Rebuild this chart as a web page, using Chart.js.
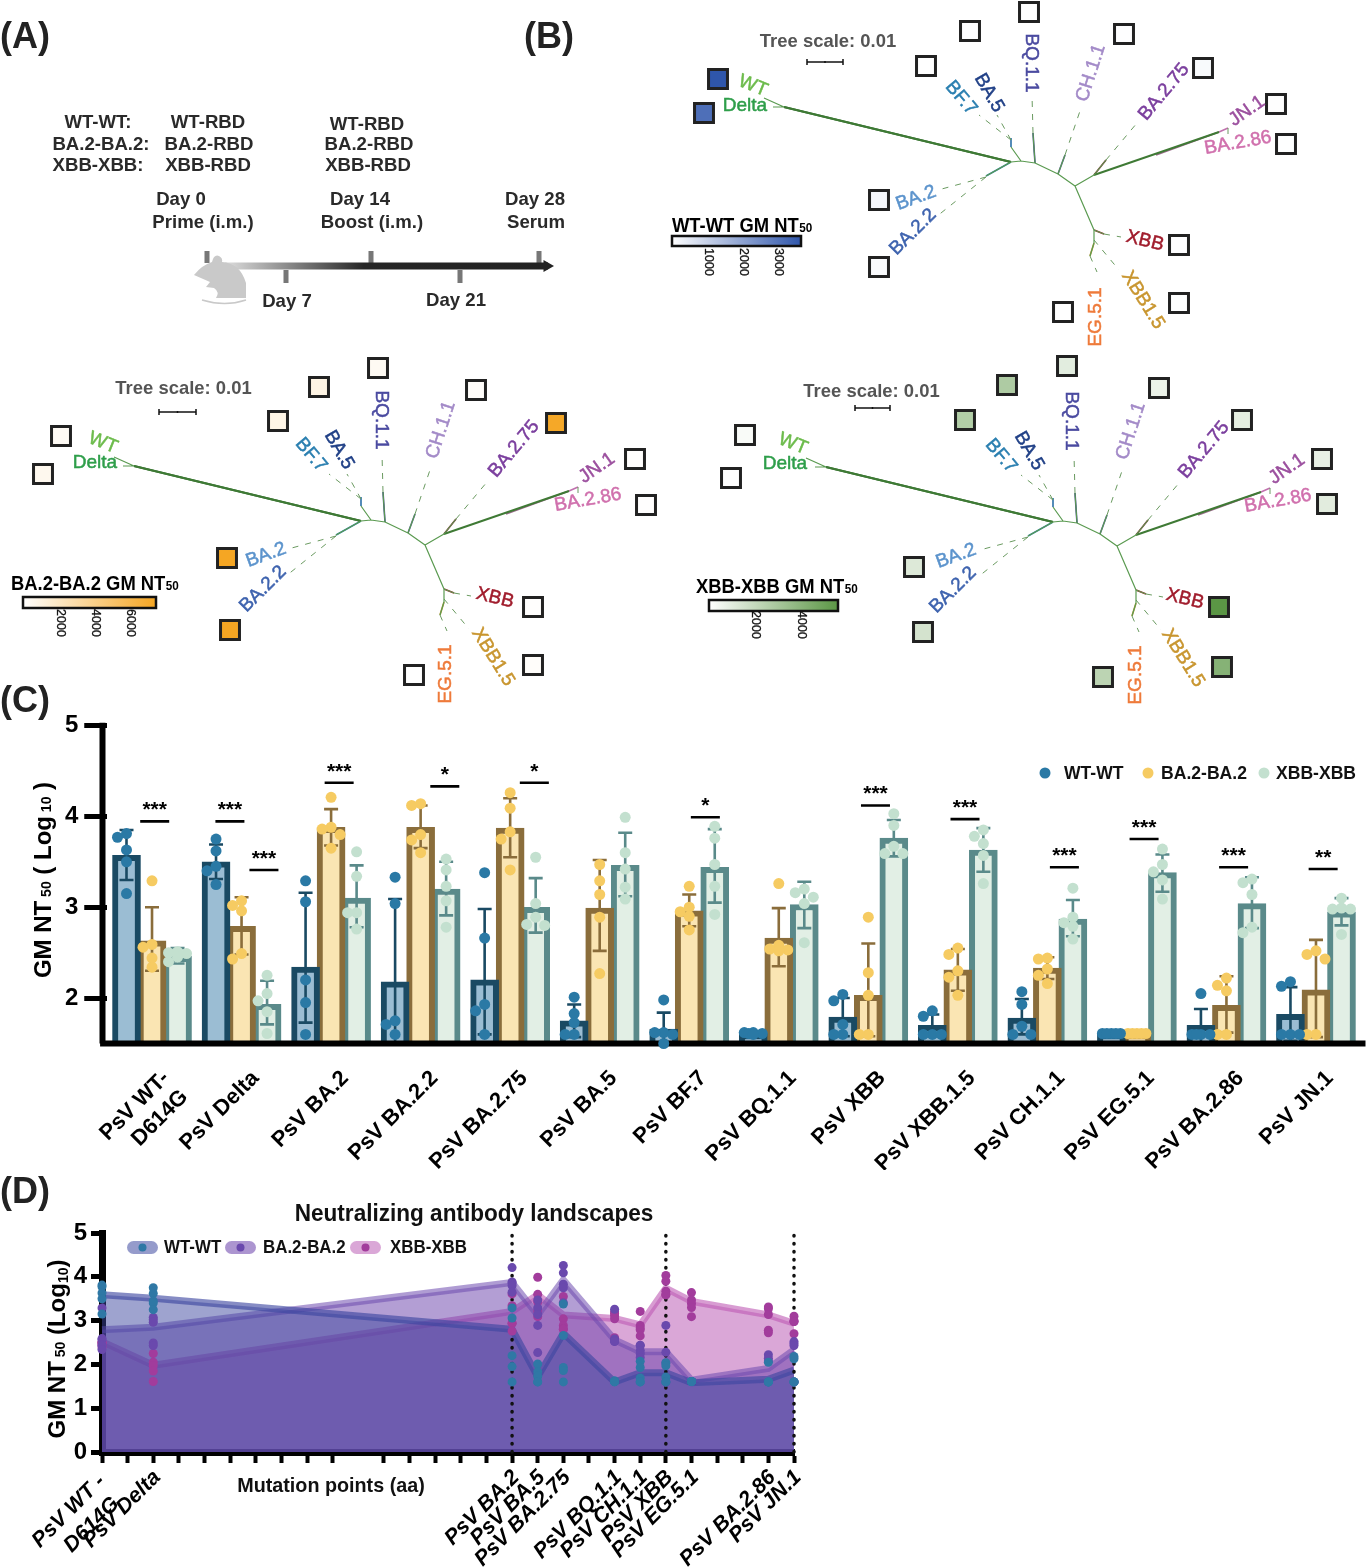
<!DOCTYPE html>
<html><head><meta charset="utf-8">
<script src="https://cdn.jsdelivr.net/npm/chart.js@4"></script>
<style>html,body{margin:0;padding:0;background:#fff}canvas{position:absolute;display:block}</style>
</head><body>
<canvas id="schema" style="left:0;top:0"></canvas>
<canvas id="barsC" style="left:0;top:690px"></canvas>
<canvas id="landD" style="left:0;top:1170px"></canvas>
<script>
/* ---------- panel C data ---------- */
const groups=[['PsV WT-','D614G'],'PsV Delta','PsV BA.2','PsV BA.2.2','PsV BA.2.75','PsV BA.5','PsV BF.7','PsV BQ.1.1','PsV XBB','PsV XBB.1.5','PsV CH.1.1','PsV EG.5.1','PsV BA.2.86','PsV JN.1'];
const wtMean=[3.57,3.5,2.34,2.18,2.2,1.75,1.66,1.61,1.79,1.7,1.78,1.61,1.7,1.82];
const ba2Mean=[2.63,2.79,3.88,3.88,3.87,2.99,2.96,2.66,2.03,2.31,2.33,1.61,1.92,2.09];
const xbbMean=[2.46,1.93,3.1,3.2,3.0,3.46,3.44,3.03,3.76,3.63,2.87,3.38,3.04,2.95];
const wtHi=[3.85,3.69,3.16,3.09,2.98,1.93,1.84,1.62,2.0,1.82,1.99,1.62,1.88,2.12];
const wtLo=[3.3,3.31,1.73,1.5,1.6,1.57,1.5,1.6,1.58,1.58,1.6,1.6,1.5,1.53];
const ba2Hi=[3.0,3.11,4.08,4.12,4.2,3.52,3.14,2.99,2.6,2.54,2.45,1.62,2.24,2.64];
const ba2Lo=[2.3,2.48,3.68,3.65,3.55,2.52,2.79,2.35,1.58,2.08,2.21,1.6,1.62,1.57];
const xbbHi=[2.55,2.19,3.46,3.5,3.32,3.82,3.86,3.28,3.96,3.87,3.08,3.58,3.33,3.1];
const xbbLo=[2.38,1.71,2.78,2.91,2.72,3.12,3.05,2.77,3.56,3.39,2.68,3.17,2.77,2.8];
const wtPts=[[3.81,3.77,3.63,3.5,3.15],[3.75,3.62,3.45,3.4,3.25],[3.29,3.06,2.2,1.95,1.6],[3.33,3.04,1.75,1.71,1.6],[3.38,2.66,1.93,1.86,1.6],[2.01,1.83,1.73,1.6,1.6],[1.98,1.62,1.62,1.6,1.5],[1.62,1.62,1.61,1.61,1.6],[2.04,1.97,1.71,1.6,1.6],[1.86,1.8,1.6,1.6,1.6],[2.07,1.93,1.69,1.6,1.6],[1.61,1.61,1.61,1.61,1.61],[2.05,1.6,1.6,1.6,1.6],[2.18,2.13,1.6,1.6,1.6]];
const ba2Pts=[[3.29,2.59,2.56,2.44,2.34],[3.07,3.02,2.96,2.49,2.43],[4.21,3.88,3.86,3.8,3.65],[4.14,4.12,3.8,3.74,3.6],[4.26,4.09,3.83,3.75,3.41],[3.47,3.29,3.14,2.89,2.27],[3.23,3.0,2.95,2.9,2.75],[3.26,2.58,2.54,2.53,2.52],[2.89,2.28,2.03,1.6,1.6],[2.55,2.48,2.3,2.23,2.03],[2.44,2.43,2.32,2.25,2.16],[1.61,1.61,1.61,1.61,1.61],[2.22,2.14,2.08,1.6,1.6],[2.52,2.48,2.43,1.6,1.6]];
const xbbPts=[[2.51,2.5,2.49,2.45,2.4],[2.25,2.05,1.97,1.85,1.61],[3.61,3.34,2.94,2.94,2.76],[3.53,3.41,3.23,3.07,2.78],[3.55,3.04,2.89,2.81,2.8],[3.99,3.6,3.42,3.22,3.09],[3.89,3.76,3.47,3.23,2.92],[3.2,3.16,3.11,3.04,2.61],[4.03,3.9,3.67,3.59,3.59],[3.85,3.78,3.7,3.57,3.26],[3.21,2.89,2.83,2.79,2.65],[3.64,3.47,3.39,3.3,3.09],[3.31,3.27,3.14,2.78,2.72],[3.1,2.99,2.98,2.98,2.7]];
const sigX=[0.03,0.87,1.25,2.09,3.27,4.27,6.18,8.08,9.08,10.19,11.08,12.08,13.08];
const sigY=[3.945,3.945,3.41,4.37,4.33,4.37,3.99,4.12,3.97,3.44,3.75,3.44,3.42];
const sigStars=['***','***','***','***','*','*','*','***','***','***','***','***','**'];
const seriesNames=['WT-WT','BA.2-BA.2','XBB-XBB'];

/* ---------- panel D data ---------- */
const mutationPoints=[0,2,16,17,18,20,21,22,23,26,27];
const mutationLabels=[['PsV WT - ','D614G  '],'PsV Delta','PsV BA.2','PsV BA.5','PsV BA.2.75','PsV BQ.1.1','PsV CH.1.1','PsV XBB','PsV EG.5.1','PsV BA.2.86','PsV JN.1'];
const mutationGroupIndex=[0,1,2,5,4,7,10,8,11,12,13];
const landWT=[3.59,3.51,2.8,1.72,2.71,1.6,1.81,1.81,1.58,1.66,1.87];
const landBA2=[2.79,2.85,3.87,3.13,3.93,2.56,2.29,2.29,1.64,1.91,2.33];
const landXBB=[2.52,1.98,3.21,3.59,3.13,3.05,2.9,3.74,3.44,3.13,2.94];
const dottedAt=[16,22,27];
const axisTicksD=[0,1,2,3,4,5,6,7,8,9,11,12,13,14,15,16,17,18,19,20,21,22,23,24,25,26,27];

/* ---------- panel B tree data (node positions of the unrooted tree) ---------- */
const tipNames=['WT','Delta','BA.2','BA.2.2','BA.2.75','BA.5','BF.7','BQ.1.1','XBB','XBB1.5','CH.1.1','EG.5.1','BA.2.86','JN.1'];
const tipIndexInBars=[0,1,2,3,4,5,6,7,8,9,10,11,12,13];
const nodes={root:[1075,186],a:[1058,174],b:[1035,163],c:[1021,161],d:[1011,162],e:[784,107],wt:[764,98],delta:[773,107],f:[986,176],g:[1011,147],g2:[1011,138],h:[1033,133],i:[1065,155],j:[1094,175],k:[1219,132],k2:[1228,128],l:[1106,160],m:[1094,230],n:[1104,234],o:[1094,243],p:[1090,256]};
const thinBranches=[['root','a'],['a','b'],['b','c'],['c','d'],['root','j'],['root','m'],['m','n'],['m','o'],['o','p'],['c','g'],['e','wt'],['e','delta'],['d','f'],['a','i'],['b','h'],['j','l']];
const thickBranches=[['d','e'],['j','k']];
const dashedTips=[[[986,177],[938,190]],[[986,177],[936,217]],[[1011,140],[979,115]],[[1011,140],[997,115]],[[1033,133],[1032,95]],[[1065,155],[1081,108]],[[1106,160],[1137,123]],[[1228,128],[1228,138]],[[1104,234],[1121,237]],[[1094,240],[1119,270]],[[1090,256],[1097,272]]];
const tipColourBranches=[[['f','d'],'#2a7fb0'],[['g','g2'],'#2a6fa8'],[['h','b'],'#4a4aa0'],[['i','a'],'#5a5aa8'],[['l','j'],'#8a2a3a'],[['k','k2'],'#c070ad'],[['m','n'],'#a01c2c'],[['o','p'],'#c8952e']];
const treeLabels=[['WT',753,86,22],['Delta',745,106,0],['BA.2',916,198,-20],['BA.2.2',913,232,-45],['BA.2.75',1164,92,-50],['BA.5',989,93,60],['BF.7',961,98,50],['BQ.1.1',1031,63,90],['XBB',1145,241,14],['XBB1.5',1143,300,58],['CH.1.1',1091,73,-72],['EG.5.1',1096,317,-90],['BA.2.86',1238,143,-10],['JN.1',1247,111,-35]];
const treeLabelColours=['#6cbb4b','#2e9e4a','#5b93cc','#3d62ae','#7b3f9e','#1f3f86','#2a7fb0','#4a4aa0','#a01c2c','#c8952e','#a38ac8','#ee7a3a','#d070ad','#9b4f9e'];
/* square positions per panel, same order as tipNames */
const squaresB=[[718,79],[704,113],[879,200],[879,267],[1203,68],[970,31],[926,66],[1029,12],[1179,245],[1179,303],[1124,34],[1063,312],[1286,144],[1276,104]];
const squaresC=[[61,436],[43,474],[227,558],[230,630],[556,423],[319,387],[278,421],[378,368],[533,607],[533,665],[476,390],[414,675],[646,505],[635,459]];
const squaresD=[[745,435],[731,478],[914,567],[923,632],[1242,420],[1007,385],[965,420],[1067,366],[1219,607],[1222,667],[1159,388],[1103,677],[1327,504],[1322,459]];
const panelOffsets=[[0,0],[-650,359],[42,360]];
const scaleBars=[[807,843,62],[159,196,412],[855,890,408]];
const panelColours=['#2f56ab','#f5a623','#5b9645'];

/* ---------- panel A data ---------- */
const dayTicksUp=[207,371,539];
const dayTicksDown=[286,460];
const schemeText=[['WT-WT:',98,123],['BA.2-BA.2:',101,145],['XBB-XBB:',98,166],['WT-RBD',208,123],['BA.2-RBD',209,145],['XBB-RBD',208,166],['WT-RBD',367,125],['BA.2-RBD',369,145],['XBB-RBD',368,166],['Day 0',181,200],['Prime (i.m.)',203,223],['Day 14',360,200],['Boost (i.m.)',372,223],['Day 28',535,200],['Serum',536,223],['Day 7',287,302],['Day 21',456,301]];

const FONT='"Liberation Sans", Arial, sans-serif';
Chart.defaults.font.family=FONT;
Chart.defaults.animation=false;
Chart.defaults.responsive=false;
Chart.defaults.plugins.legend.display=false;
Chart.defaults.plugins.tooltip.enabled=false;
Chart.defaults.layout.autoPadding=false;

function size(id,w,h){const c=document.getElementById(id);c.width=w;c.height=h;c.style.width=w+'px';c.style.height=h+'px';return c;}
function txt(ctx,t,x,y,o={}){
  ctx.save();ctx.translate(x,y);
  if(o.rot)ctx.rotate(o.rot*Math.PI/180);
  if(o.sx)ctx.scale(o.sx,1);
  ctx.font=`${o.italic?'italic ':''}${o.bold===false?'':'bold '}${o.size||18}px ${FONT}`;
  ctx.fillStyle=o.color||'#000';ctx.textAlign=o.align||'center';ctx.textBaseline='middle';
  if(o.stroke){ctx.strokeStyle=ctx.fillStyle;ctx.lineWidth=o.stroke;ctx.strokeText(t,0,0);}
  ctx.fillText(t,0,0);ctx.restore();
}
function rich(ctx,parts,x,yc,sx){ /* vertical text running upward, centred on yc */
  ctx.save();ctx.translate(x,yc);ctx.rotate(-Math.PI/2);ctx.scale(sx||1,1);
  let w=0;parts.forEach(p=>{ctx.font=`bold ${p[1]}px ${FONT}`;w+=ctx.measureText(p[0]).width;});
  let c=-w/2;ctx.textBaseline='alphabetic';ctx.fillStyle='#000';ctx.textAlign='left';
  parts.forEach(p=>{ctx.font=`bold ${p[1]}px ${FONT}`;ctx.fillText(p[0],c,8+(p[2]||0));c+=ctx.measureText(p[0]).width;});
  ctx.restore();
}
function mix(hex,t){const n=parseInt(hex.slice(1),16),r=n>>16,g=(n>>8)&255,b=n&255;
  return `rgb(${Math.round(255+(r-255)*t)},${Math.round(255+(g-255)*t)},${Math.round(255+(b-255)*t)})`;}

/* ================= schematic: panels A and B ================= */
(function(){
const H=740;size('schema',1367,H);
const datasets=[];
function seg(pairs,o,off){const d=[];pairs.forEach(p=>{d.push({x:p[0][0]+off[0],y:p[0][1]+off[1]},{x:p[1][0]+off[0],y:p[1][1]+off[1]},{x:null,y:null});});
  datasets.push(Object.assign({showLine:true,data:d,pointRadius:0,borderColor:'#4f8a45',borderWidth:1,clip:false},o));}
const N=k=>nodes[k];
panelOffsets.forEach((off,pi)=>{
  seg(thinBranches.map(b=>[N(b[0]),N(b[1])]),{borderColor:'#5a9a50',borderWidth:1.2},off);
  seg(thickBranches.map(b=>[N(b[0]),N(b[1])]),{borderWidth:2,borderColor:'#3f7a35'},off);
  seg([[N('d'),N('e')]],{borderColor:'#2f6f2f',borderWidth:2.2},off);
  seg([[[nodes.j[0]+62,nodes.j[1]-20],N('k')]],{borderColor:'#9a6a8a',borderWidth:1.8},off);
  seg(dashedTips,{borderColor:'#6a9a60',borderWidth:1,borderDash:[6,7]},off);
  tipColourBranches.forEach(t=>seg([[N(t[0][0]),N(t[0][1])]],{borderColor:t[1],borderWidth:1.6},off));
  seg([scaleBars[pi].slice(0,2).map(x=>[x,scaleBars[pi][2]])],{borderColor:'#111',borderWidth:1.6},[0,0]);
  const sq=[squaresB,squaresC,squaresD][pi];
  const means=[wtMean,ba2Mean,xbbMean][pi];
  const tv=tipIndexInBars.map(i=>Math.pow(10,means[i]));
  const mx=Math.max(...tv),mn=Math.min(...tv);
  datasets.push({label:'heat '+seriesNames[pi],data:sq.map(s=>({x:s[0],y:s[1]})),pointStyle:'rect',pointRadius:13.4,borderWidth:3,pointBorderColor:'#222',
     pointBackgroundColor:tv.map(v=>mix(panelColours[pi],(v-mn)/(mx-mn))),clip:false});
});
/* timeline */
datasets.push({showLine:true,data:[{x:225,y:266},{x:548,y:266}],pointRadius:0,borderWidth:7,clip:false,
  borderColor:c=>{const g=c.chart.ctx.createLinearGradient(225,0,548,0);g.addColorStop(0,'#dddddd');g.addColorStop(0.43,'#262626');g.addColorStop(1,'#222');return g;}});
datasets.push({data:[{x:547,y:266}],pointStyle:'triangle',pointRadius:7,rotation:90,pointBackgroundColor:'#222',pointBorderColor:'#222',borderWidth:0});
dayTicksUp.forEach(x=>datasets.push({showLine:true,data:[{x,y:251},{x,y:263}],pointRadius:0,borderWidth:5,borderColor:'#777'}));
dayTicksDown.forEach(x=>datasets.push({showLine:true,data:[{x,y:270},{x,y:283}],pointRadius:0,borderWidth:5,borderColor:'#777'}));

const deco={id:'deco',afterDatasetsDraw(ch){const ctx=ch.ctx;
  /* mouse silhouette */
  ctx.save();ctx.fillStyle='#c9c9c9';ctx.strokeStyle='#c9c9c9';ctx.beginPath();
  ctx.moveTo(194,275);ctx.quadraticCurveTo(202,265,212,262);ctx.quadraticCurveTo(214,254,219,256);ctx.quadraticCurveTo(223,258,222,262);
  ctx.quadraticCurveTo(240,263,246,283);ctx.lineTo(246,298);ctx.lineTo(216,298);ctx.quadraticCurveTo(220,292,214,288);ctx.lineTo(206,287);ctx.lineTo(210,282);ctx.closePath();ctx.fill();
  ctx.lineWidth=1.5;ctx.beginPath();ctx.moveTo(246,300);ctx.quadraticCurveTo(225,307,202,300);ctx.stroke();ctx.restore();
  /* panel letters */
  txt(ctx,'(A)',0,38,{size:36,align:'left',color:'#222'});
  txt(ctx,'(B)',524,38,{size:36,align:'left',color:'#222'});
  txt(ctx,'(C)',0,702,{size:36,align:'left',color:'#222'});
  schemeText.forEach(t=>txt(ctx,t[0],t[1],t[2],{size:18.6,color:'#2a2a2a'}));
  /* tree labels */
  panelOffsets.forEach((off,pi)=>{
    const lo=[0,0,-2][pi];
    treeLabels.forEach((l,i)=>txt(ctx,l[0],l[1]+off[0]+lo,l[2]+off[1]+(pi?-2:0),{size:19,bold:false,rot:l[3],color:treeLabelColours[i],stroke:.5}));
    const b=scaleBars[pi];
    txt(ctx,'Tree scale: 0.01',(b[0]+b[1])/2+[3,6,-1][pi],b[2]+[-21,-24,-17][pi]+1,{size:19,color:'#555',sx:.97});
    [b[0],b[1],(b[0]+b[1])/2].forEach((x,k)=>{ctx.fillStyle='#111';ctx.fillRect(x-.75,b[2]-(k==2?1:3),1.5,k==2?2:6);});
  });
  /* colour bars */
  const bars=[{x:672,y:236,w:129,h:10,tx:672,ty:226,t:'WT-WT GM NT',ticks:[['1000',708],['2000',743],['3000',778]],c:panelColours[0],ly:262},
              {x:23,y:597,w:133,h:11,tx:11,ty:584,t:'BA.2-BA.2 GM NT',ticks:[['2000',60],['4000',95],['6000',130]],c:panelColours[1],ly:623},
              {x:709,y:600,w:129,h:11,tx:696,ty:587,t:'XBB-XBB GM NT',ticks:[['2000',755],['4000',801]],c:panelColours[2],ly:625}];
  bars.forEach(b=>{const g=ctx.createLinearGradient(b.x,0,b.x+b.w,0);g.addColorStop(0,'#fff');g.addColorStop(1,b.c);
    ctx.fillStyle=g;ctx.fillRect(b.x,b.y,b.w,b.h);ctx.strokeStyle='#111';ctx.lineWidth=2.5;ctx.strokeRect(b.x,b.y,b.w,b.h);
    txt(ctx,b.t,b.tx,b.ty,{size:20,align:'left',sx:.92});
    ctx.save();ctx.font=`bold 20px ${FONT}`;const w=ctx.measureText(b.t).width*.92;ctx.restore();
    txt(ctx,'50',b.tx+w+.5,b.ty+2,{size:13,align:'left',sx:.9});
    b.ticks.forEach(t=>txt(ctx,t[0],t[1],b.ly,{size:12.5,rot:90,bold:false,color:'#111',stroke:.3}));
  });
}};
new Chart(document.getElementById('schema'),{type:'scatter',data:{datasets},plugins:[deco],options:{layout:{padding:0},
  scales:{x:{type:'linear',display:false,min:0,max:1367},y:{type:'linear',display:false,min:0,max:H,reverse:true}}}});
})();

/* ================= panel C ================= */
(function(){
const TOP=690,W=1367,H=480;size('barsC',W,H);
const PX=89.5,STEP=0.285,UNIT=91;
const fills=['#9bbdd3','#fae5b3','#e2efe5'],edges=['#1a4a63','#8a6d3b','#5a8a8a'],dots=['#2a79a5','#f6cb62','#c3e0cf'];
const means=[wtMean,ba2Mean,xbbMean],his=[wtHi,ba2Hi,xbbHi],los=[wtLo,ba2Lo,xbbLo],pts=[wtPts,ba2Pts,xbbPts];
const cand=[0,-9,9,-4.5,4.5,-13,13];
function swarm(vals){const placed=[];vals.forEach(v=>{let best=null;
   for(const c of cand){if(placed.every(p=>Math.hypot(p.dx-c,(p.v-v)*UNIT)>=8.5)){best=c;break;}}
   if(best===null){best=cand.find(c=>!placed.some(p=>p.dx===c&&Math.abs(p.v-v)<.02));if(best===undefined)best=0;}
   placed.push({v,dx:best});});return placed;}
const ds=[];
means.forEach((m,j)=>ds.push({type:'bar',label:seriesNames[j],data:m.map((v,i)=>({x:i+(j-1)*STEP,y:v})),xAxisID:'x2',yAxisID:'y',grouped:false,barThickness:28,backgroundColor:fills[j],borderColor:edges[j],borderWidth:6,borderSkipped:'bottom',order:5}));
means.forEach((m,j)=>{const d=[];m.forEach((_,i)=>{const x=i+(j-1)*STEP,cap=7/PX;
   d.push({x,y:los[j][i]},{x,y:his[j][i]},{x:null,y:null},{x:x-cap,y:his[j][i]},{x:x+cap,y:his[j][i]},{x:null,y:null},{x:x-cap,y:los[j][i]},{x:x+cap,y:los[j][i]},{x:null,y:null});});
   ds.push({type:'scatter',data:d,xAxisID:'x2',yAxisID:'y',showLine:true,pointRadius:0,borderColor:edges[j],borderWidth:2.6,order:3,clip:false});});
const sd=[];sigX.forEach((x,i)=>{sd.push({x:x-.162,y:sigY[i]},{x:x+.162,y:sigY[i]},{x:null,y:null});});
ds.push({type:'scatter',data:sd,xAxisID:'x2',yAxisID:'y',showLine:true,pointRadius:0,borderColor:'#000',borderWidth:2.6,order:2});
/* axis lines */
ds.push({type:'scatter',data:[{x:-.553,y:1.5},{x:-.553,y:5.03}],xAxisID:'x2',yAxisID:'y',showLine:true,pointRadius:0,borderColor:'#000',borderWidth:6,clip:false,order:2});
ds.push({type:'scatter',data:[{x:-.58,y:1.5},{x:13.553,y:1.5}],xAxisID:'x2',yAxisID:'y',showLine:true,pointRadius:0,borderColor:'#000',borderWidth:6,clip:false,order:2});
pts.forEach((p,j)=>{const d=[];p.forEach((vals,i)=>swarm(vals).forEach(s=>d.push({x:i+(j-1)*STEP+s.dx/PX,y:s.v})));
   ds.push({type:'scatter',data:d,xAxisID:'x2',yAxisID:'y',pointRadius:5.5,pointBorderWidth:0,pointBackgroundColor:dots[j],clip:false,order:1});});
const deco={id:'decoC',afterDraw(ch){const ctx=ch.ctx;ctx.save();ctx.translate(0,-TOP);
  rich(ctx,[['GM NT',24],[' 50',14],[' ( Log',24],[' 10',14],[' )',24]],43,880);
  sigX.forEach((x,i)=>{txt(ctx,sigStars[i],ch.scales.x2.getPixelForValue(x),ch.scales.y.getPixelForValue(sigY[i])+TOP-11,{size:21});});
  const leg=[[1045,1064],[1148,1161],[1264,1276]];
  leg.forEach((l,j)=>{ctx.beginPath();ctx.fillStyle=dots[j];ctx.arc(l[0],773,5.5,0,7);ctx.fill();txt(ctx,seriesNames[j],l[1],774,{size:18.5,align:'left',color:'#111',sx:.95});});
  ctx.restore();}};
new Chart(document.getElementById('barsC'),{data:{labels:groups,datasets:ds},plugins:[deco],options:{
  layout:{padding:{top:35.5,left:0,right:6.25,bottom:0}},
  scales:{
   x:{type:'category',offset:true,grid:{display:false},border:{display:false},afterFit:s=>{s.height=H-(1043.5-TOP);},
      ticks:{autoSkip:false,minRotation:45,maxRotation:45,padding:14,labelOffset:14,color:'#000',font:{size:22,weight:'bold'}}},
   x2:{type:'linear',display:false,min:-.5,max:13.5,offset:false,grid:{offset:false}},
   y:{type:'linear',min:1.5,max:5,afterFit:s=>{s.width=107.25;},afterBuildTicks:s=>{s.ticks=[2,3,4,5].map(value=>({value}));},
      border:{display:false},grid:{drawOnChartArea:false,drawTicks:true,tickLength:23,tickWidth:5,tickColor:'#000'},
      ticks:{padding:6,color:'#000',font:{size:24,weight:'bold'}}}
  }}});
})();

/* ================= panel D ================= */
(function(){
const TOP=1170,W=830,H=397;size('landD',W,H);
const lineCols=['rgba(60,70,160,.62)','rgba(110,75,175,.55)','rgba(190,90,180,.6)'];
const fillCols=['rgba(62,72,160,.5)','rgba(104,62,170,.5)','rgba(188,95,182,.55)'];
const dotCols=['#2f78a5','#6a49ad','#a23c9c'];
const lines=[landWT,landBA2,landXBB],pts=[wtPts,ba2Pts,xbbPts];
const ds=[];
/* dots */
pts.forEach((p,j)=>{const d=[];mutationGroupIndex.forEach((g,i)=>{p[g].forEach(v=>d.push({x:mutationPoints[i],y:v}));});
  ds.push({type:'scatter',data:d,pointRadius:4.5,pointBorderWidth:0,pointBackgroundColor:dotCols[j],clip:false,order:[1,2,3][j]});});
dottedAt.forEach(x=>ds.push({type:'scatter',data:[{x,y:0},{x,y:5}],showLine:true,pointRadius:0,borderColor:'#111',borderWidth:3.5,borderDash:[0.5,7.5],borderCapStyle:'round',clip:false,order:4}));
lines.forEach((l,j)=>ds.push({type:'line',label:seriesNames[j],data:mutationPoints.map((x,i)=>({x,y:l[i]})),borderColor:lineCols[j],borderWidth:7,backgroundColor:fillCols[j],fill:'origin',pointRadius:0,tension:0,clip:false,order:[5,6,7][j]}));
const deco={id:'decoD',afterDraw(ch){const ctx=ch.ctx;ctx.save();ctx.translate(0,-TOP);
  txt(ctx,'(D)',0,1193,{size:36,align:'left',color:'#222'});
  txt(ctx,'Neutralizing antibody landscapes',474,1214,{size:24,sx:.94,color:'#111'});
  txt(ctx,'Mutation points (aa)',331,1486,{size:21,sx:.94,color:'#111'});
  rich(ctx,[['GM NT',24],[' 50',14],[' (Log',24],['10',14,3],[')',24]],57,1349);
  const leg=[[127,164],[225,263],[350,390]];
  leg.forEach((l,j)=>{ctx.fillStyle=fillCols[j].replace(/,[.\d]+\)/,',.55)');ctx.beginPath();ctx.roundRect(l[0],1241,31,13,6.5);ctx.fill();
    ctx.beginPath();ctx.fillStyle=dotCols[j];ctx.arc(l[0]+15.5,1247.5,4,0,7);ctx.fill();
    txt(ctx,seriesNames[j],l[1],1248,{size:19,align:'left',sx:.89,color:'#111'});});
  ctx.restore();}};
new Chart(document.getElementById('landD'),{data:{datasets:ds},plugins:[deco],options:{
  layout:{padding:{top:63,left:0,right:W-794,bottom:0}},
  scales:{
   x:{type:'linear',min:0,max:27,afterFit:s=>{s.height=H-(1452-TOP);},afterBuildTicks:s=>{s.ticks=axisTicksD.map(value=>({value}));},
      border:{display:true,width:7,color:'#000'},grid:{drawOnChartArea:false,drawTicks:true,tickLength:11,tickWidth:4,tickColor:'#000'},
      ticks:{autoSkip:false,minRotation:45,maxRotation:45,padding:2,labelOffset:4,color:'#000',font:{size:21.5,weight:'bold',style:'italic'},
        callback:v=>{const i=mutationPoints.indexOf(v);return i<0?'':mutationLabels[i];}}},
   y:{type:'linear',min:0,max:5,afterFit:s=>{s.width=102;},afterBuildTicks:s=>{s.ticks=[0,1,2,3,4,5].map(value=>({value}));},
      border:{display:true,width:7,color:'#000'},grid:{drawOnChartArea:false,drawTicks:true,tickLength:11,tickWidth:5,tickColor:'#000'},
      ticks:{padding:4,color:'#000',font:{size:24,weight:'bold'}}}
  }}});
})();
</script>
</body></html>
